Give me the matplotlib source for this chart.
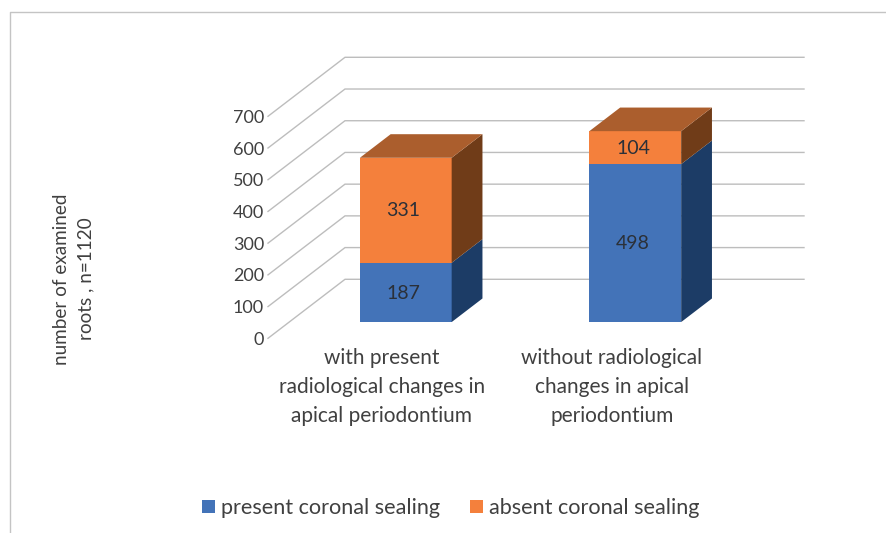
import matplotlib
matplotlib.use('Agg')
import matplotlib.pyplot as plt
from matplotlib.lines import Line2D
from matplotlib.patches import Polygon, Rectangle

plt.rcParams['font.family'] = ['Lato', 'DejaVu Sans']

categories = ['with present\nradiological changes in\napical periodontium',
              'without radiological\nchanges in apical\nperiodontium']
present = [187, 498]
absent = [331, 104]
series_names = ['present coronal sealing', 'absent coronal sealing']
ticks = [0, 100, 200, 300, 400, 500, 600, 700]
y_title = 'number of examined\nroots , n=1120'

W, H = 887, 533
BLUE = ['#4373B8', '#1C3C66']
ORANGE = ['#F4803C', '#703C18', '#AB5E2D']
GRID = '#BDBDBD'
TEXT = '#404040'

# how far the back wall sits from the front, in data units
DEPTH_X = 77 / 229.5
DEPTH_Y = 59 / (222 / 700)


def proj(x, y, d):
    return (x + DEPTH_X * d, y + DEPTH_Y * d)


fig = plt.figure(figsize=(W / 100, H / 100), dpi=100)
ax = fig.add_axes([268 / W, (H - 338.3) / H, 459 / W, 222 / H])
ax.set_xlim(-0.5, 1.5)
ax.set_ylim(0, 700)
ax.axis('off')

# walls
for t in ticks:
    pts = [proj(-0.5, t, 0), proj(-0.5, t, 1), proj(1.5, t, 1)]
    ax.plot([p[0] for p in pts], [p[1] for p in pts], color=GRID, lw=1,
            clip_on=False, zorder=1, solid_joinstyle='miter')
    ax.annotate(str(t), xy=(-0.5, t), xytext=(-4, -1.5), textcoords='offset pixels',
                ha='right', va='center', fontsize=13, color=TEXT, annotation_clip=False)


def box(x, y0, y1, cols, top=False):
    d0, d1 = 0.275, 0.675
    w = 0.2
    x = x + 0.008
    front = [proj(x - w, y0, d0), proj(x + w, y0, d0), proj(x + w, y1, d0), proj(x - w, y1, d0)]
    side = [proj(x + w, y0, d0), proj(x + w, y0, d1), proj(x + w, y1, d1), proj(x + w, y1, d0)]
    ax.add_patch(Polygon(front, fc=cols[0], ec='none', clip_on=False, zorder=3))
    ax.add_patch(Polygon(side, fc=cols[1], ec='none', clip_on=False, zorder=3))
    if top:
        lid = [proj(x - w, y1, d0), proj(x + w, y1, d0), proj(x + w, y1, d1), proj(x - w, y1, d1)]
        ax.add_patch(Polygon(lid, fc=cols[2], ec='none', clip_on=False, zorder=3))
    cx, cy = proj(x, (y0 + y1) / 2, d0)
    ax.text(cx - 0.01, cy - 2, str(int(y1 - y0)), ha='center', va='center', fontsize=14,
            color='#2B3038', zorder=4)


for i in range(len(categories)):
    box(i, 0, present[i], BLUE)
    box(i, present[i], present[i] + absent[i], ORANGE, top=True)
    fig.text((382 + i * 230) / W, 1 - 387 / H, categories[i], ha='center', va='center',
             fontsize=15, color=TEXT, linespacing=1.55)

fig.text(73.5 / W, 1 - 279 / H, y_title, rotation=90, ha='center', va='center',
         fontsize=13.6, color=TEXT, linespacing=1.5)

# legend
for x0, col, name, tx in [(202, BLUE[0], series_names[0], 221), (470, ORANGE[0], series_names[1], 489)]:
    fig.add_artist(Rectangle((x0 / W, 1 - 513 / H), 13 / W, 13 / H, fc=col, ec='none',
                             transform=fig.transFigure))
    fig.text(tx / W, 1 - 508 / H, name, ha='left', va='center', fontsize=15.6, color=TEXT)

# outer frame
fig.add_artist(Line2D([10 / W, 10 / W, 1], [0, 1 - 12 / H, 1 - 12 / H], color='#C4C4C4', lw=1,
                      transform=fig.transFigure))

fig.savefig('out.png', dpi=100)
